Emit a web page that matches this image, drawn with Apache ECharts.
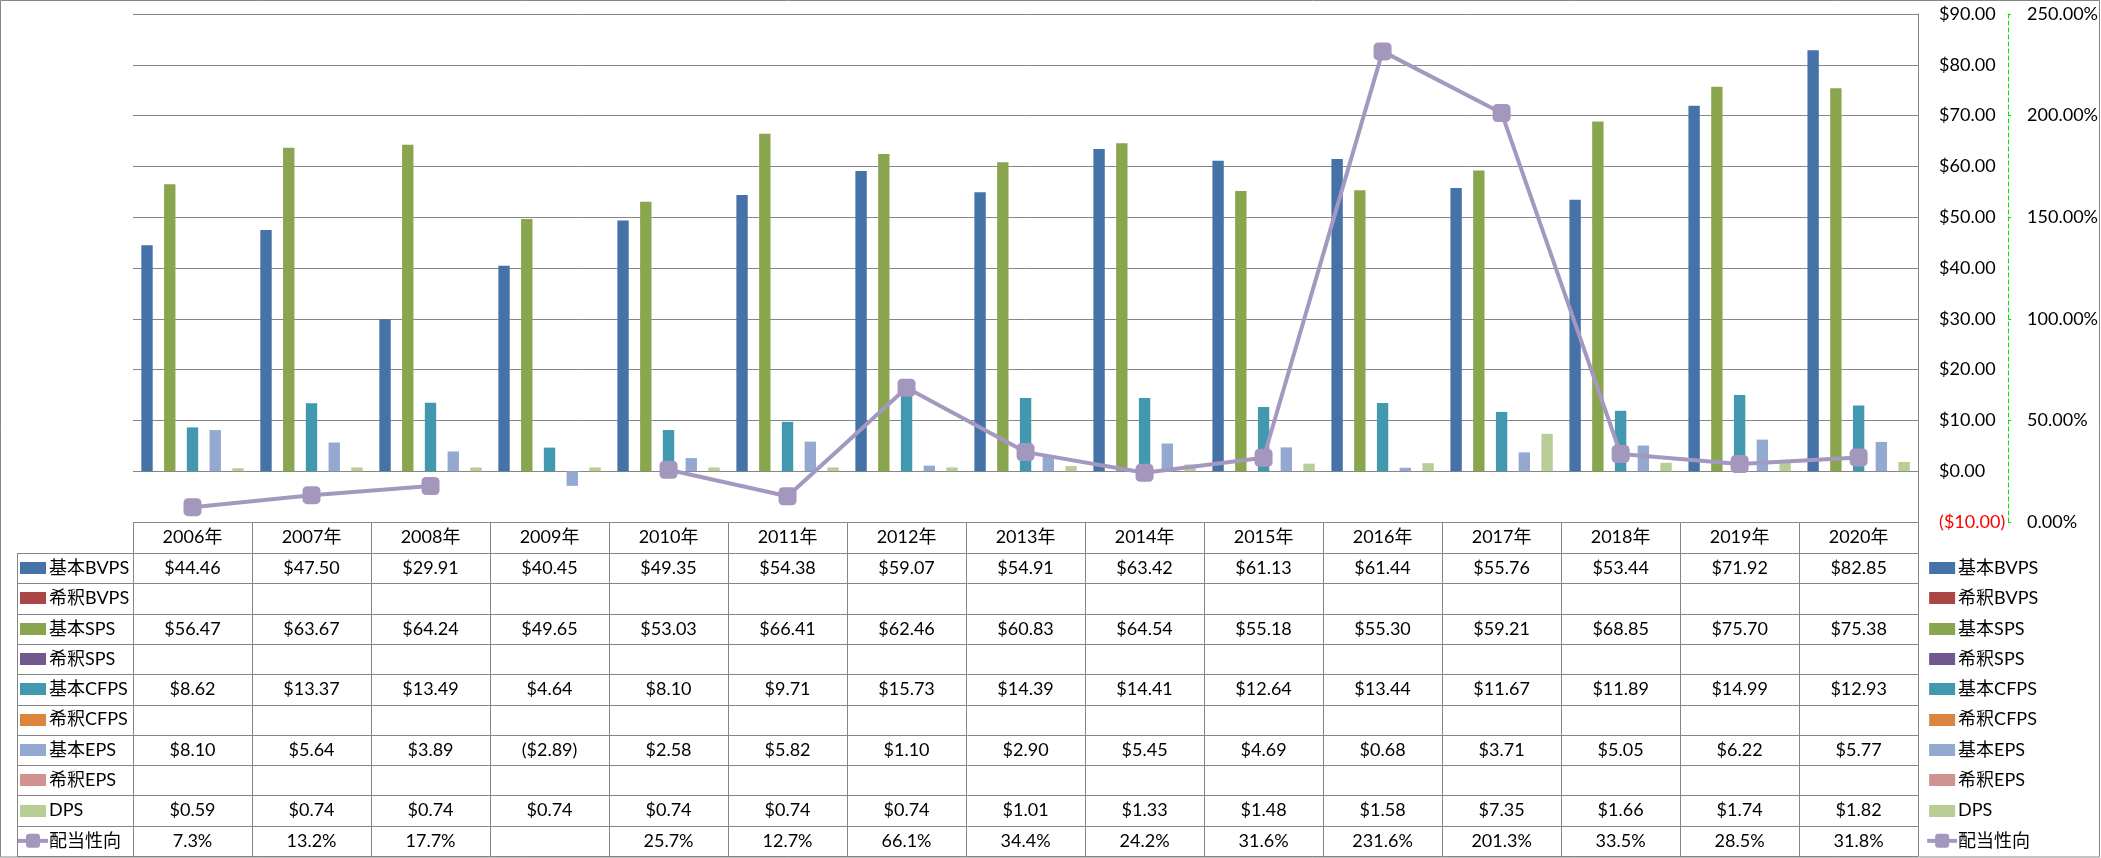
<!DOCTYPE html>
<html><head><meta charset="utf-8">
<script src="https://cdn.jsdelivr.net/npm/echarts@6/dist/echarts.min.js"></script>
<style>html,body{margin:0;padding:0;background:#fff;overflow:hidden}#c{width:2101px;height:858px}</style>
</head><body><div id="c"></div>
<script>
// ---------------- data ----------------
const categories = ['2006年','2007年','2008年','2009年','2010年','2011年','2012年','2013年','2014年','2015年','2016年','2017年','2018年','2019年','2020年'];
const basicBVPS   = [44.46,47.50,29.91,40.45,49.35,54.38,59.07,54.91,63.42,61.13,61.44,55.76,53.44,71.92,82.85];
const dilutedBVPS = [null,null,null,null,null,null,null,null,null,null,null,null,null,null,null];
const basicSPS    = [56.47,63.67,64.24,49.65,53.03,66.41,62.46,60.83,64.54,55.18,55.30,59.21,68.85,75.70,75.38];
const dilutedSPS  = [null,null,null,null,null,null,null,null,null,null,null,null,null,null,null];
const basicCFPS   = [8.62,13.37,13.49,4.64,8.10,9.71,15.73,14.39,14.41,12.64,13.44,11.67,11.89,14.99,12.93];
const dilutedCFPS = [null,null,null,null,null,null,null,null,null,null,null,null,null,null,null];
const basicEPS    = [8.10,5.64,3.89,-2.89,2.58,5.82,1.10,2.90,5.45,4.69,0.68,3.71,5.05,6.22,5.77];
const dilutedEPS  = [null,null,null,null,null,null,null,null,null,null,null,null,null,null,null];
const DPS         = [0.59,0.74,0.74,0.74,0.74,0.74,0.74,1.01,1.33,1.48,1.58,7.35,1.66,1.74,1.82];
const payoutRatio = [7.3,13.2,17.7,null,25.7,12.7,66.1,34.4,24.2,31.6,231.6,201.3,33.5,28.5,31.8];

const seriesNames = ['基本BVPS','希釈BVPS','基本SPS','希釈SPS','基本CFPS','希釈CFPS','基本EPS','希釈EPS','DPS','配当性向'];
const seriesColors = ['#4572A7','#AA4643','#89A54E','#71588F','#4198AF','#DB843D','#93A9CF','#D19392','#B9CD96','#A598C0'];
const barData = [basicBVPS,dilutedBVPS,basicSPS,dilutedSPS,basicCFPS,dilutedCFPS,basicEPS,dilutedEPS,DPS];

const dollarAxis = {min:-10, max:90, interval:10};
const pctAxis = {min:0, max:250, interval:50};

// ---------------- chart ----------------
const FONT = "Lato, 'Noto Sans CJK JP', sans-serif";
const FS = 18;
const GRID = {left:133, right:181, top:14, bottom:336};
const chart = echarts.init(document.getElementById('c'), null, {renderer:'canvas'});

function money(v){ if(v==null) return ''; return v<0 ? '($'+(-v).toFixed(2)+')' : '$'+v.toFixed(2); }
function pct(v){ return v==null ? '' : v.toFixed(1)+'%'; }

const series = barData.map((d,i)=>({
  name: seriesNames[i], type:'bar', data:d, yAxisIndex:0,
  barGap:'0%', barCategoryGap:'14%',
  itemStyle:{color:seriesColors[i]}, silent:true
}));
series.push({
  name: seriesNames[9], type:'line', data:payoutRatio, yAxisIndex:1,
  symbol:'roundRect', symbolSize:18, connectNulls:false,
  lineStyle:{color:seriesColors[9], width:4},
  itemStyle:{color:'#A497BE'}, z:5, silent:true
});

chart.setOption({
  animation:false,
  textStyle:{fontFamily:FONT},
  grid:{left:GRID.left, right:GRID.right, top:GRID.top, bottom:GRID.bottom, containLabel:false},
  xAxis:{type:'category', data:categories, boundaryGap:true,
    axisLine:{show:false}, axisTick:{show:false}, axisLabel:{show:false}, splitLine:{show:false}},
  yAxis:[
    {type:'value', position:'right', min:dollarAxis.min, max:dollarAxis.max, interval:dollarAxis.interval,
     axisLine:{show:true, lineStyle:{color:'#868686', width:1}}, axisTick:{show:false},
     axisLabel:{margin:21, fontSize:FS, fontFamily:FONT,
       formatter:v=>money(v),
       color:(v)=> (Number(v)<0 ? '#FF0000' : '#000000')},
     splitLine:{show:true, lineStyle:{color:'#868686', width:1}}},
    {type:'value', position:'right', offset:90, min:pctAxis.min, max:pctAxis.max, interval:pctAxis.interval,
     axisLine:{show:true, lineStyle:{color:'#00E400', width:1, type:[4,3]}},
     axisTick:{show:true, length:3, lineStyle:{color:'#00E400'}},
     axisLabel:{margin:19, fontSize:FS, fontFamily:FONT, color:'#000', formatter:v=>v.toFixed(2)+'%'},
     splitLine:{show:false}}
  ],
  series: series
});

// ---------------- data table & legends ----------------
const cx = i => chart.convertToPixel({xAxisIndex:0}, i);
const band = cx(1) - cx(0);
const tableLeft = cx(0) - band/2;
const tableRight = cx(categories.length-1) + band/2;
const tableTop = chart.convertToPixel({yAxisIndex:0}, dollarAxis.min);
const headerH = 31;
const rowTop = tableTop + headerH;
const bottomY = 856;
const rowH = (bottomY - rowTop) / seriesNames.length;
const labelLeft = 17;
const LC = '#868686';
const px = v => Math.round(v) + 0.5;

const g = [];
function hline(x1,x2,y){ g.push({type:'line', silent:true, shape:{x1:x1,y1:px(y),x2:x2,y2:px(y)}, style:{stroke:LC, lineWidth:1}}); }
function vline(x,y1,y2){ g.push({type:'line', silent:true, shape:{x1:px(x),y1:y1,x2:px(x),y2:y2}, style:{stroke:LC, lineWidth:1}}); }
function text(str,x,y,align){ g.push({type:'text', silent:true, x:x, y:y, style:{text:str, fill:'#000', font:FS+'px '+FONT, align:align||'center', verticalAlign:'middle'}}); }

// outer border
g.push({type:'rect', silent:true, shape:{x:0.5,y:0.5,width:2099,height:856.5}, style:{fill:'none', stroke:LC, lineWidth:1}});

// table lines
hline(tableLeft, tableRight, tableTop);
for(let r=0;r<=seriesNames.length;r++) hline(labelLeft, tableRight, rowTop + r*rowH);
for(let k=0;k<=categories.length;k++) vline(tableLeft + k*band, tableTop, bottomY);
vline(labelLeft, rowTop, bottomY);

// header
categories.forEach((c,i)=> text(c, cx(i), tableTop + headerH/2));

// rows
const rowValues = [basicBVPS,dilutedBVPS,basicSPS,dilutedSPS,basicCFPS,dilutedCFPS,basicEPS,dilutedEPS,DPS,payoutRatio];
rowValues.forEach((arr,r)=>{
  const yc = rowTop + r*rowH + rowH/2;
  arr.forEach((v,i)=>{
    const s = r===9 ? pct(v) : money(v);
    if(s) text(s, cx(i), yc);
  });
});

// legend keys (left in table, right outside)
function legendKey(x, yc, r){
  if(r<9){
    g.push({type:'rect', silent:true, shape:{x:x, y:Math.round(yc-6), width:26, height:12}, style:{fill:seriesColors[r]}});
  } else {
    g.push({type:'line', silent:true, shape:{x1:x-2,y1:yc,x2:x+28,y2:yc}, style:{stroke:seriesColors[9], lineWidth:4}});
    g.push({type:'rect', silent:true, shape:{x:x+6, y:yc-7, width:14, height:14, r:3}, style:{fill:'#A497BE'}});
  }
}
seriesNames.forEach((n,r)=>{
  const yc = rowTop + r*rowH + rowH/2;
  legendKey(20, yc, r);
  text(n, 49, yc, 'left');
  legendKey(tableRight + 11, yc, r);
  text(n, tableRight + 40, yc, 'left');
});

chart.setOption({graphic:g});
</script>
</body></html>
